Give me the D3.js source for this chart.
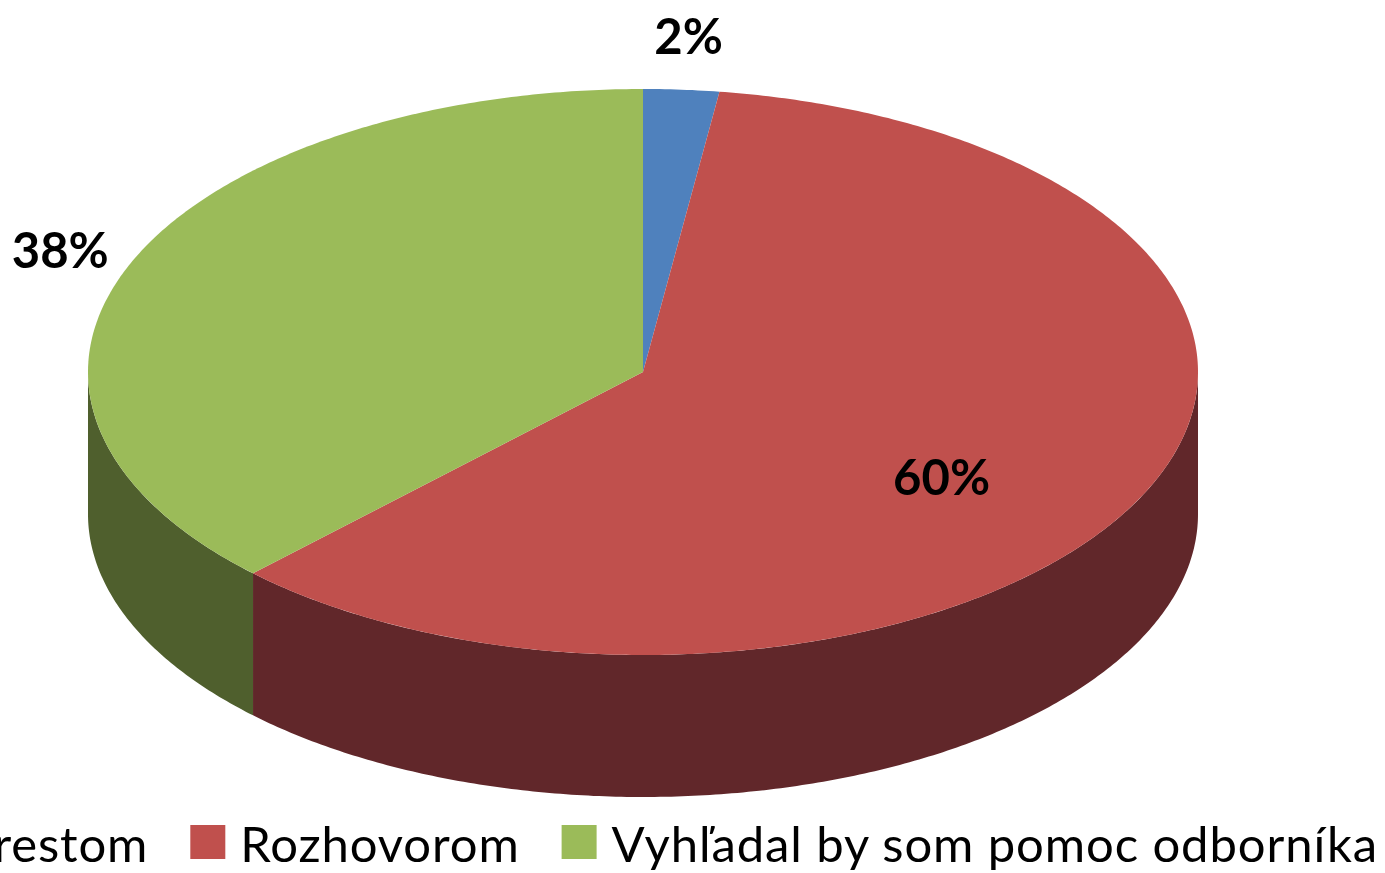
<!DOCTYPE html>
<html>
<head>
<meta charset="utf-8">
<script src="https://cdn.jsdelivr.net/npm/d3@7"></script>
<style>
  html, body { margin: 0; padding: 0; background: #fff; overflow: hidden; }
  svg { display: block; }
</style>
</head>
<body>
<svg id="chart" width="1385" height="873"></svg>
<script>
const categories = ["Trestom", "Rozhovorom", "Vyhľadal by som pomoc odborníka"];
const values = [2.2, 60.2, 37.6];
const labels = ["2%", "60%", "38%"];
const topColors = ["#4F81BD", "#C0504D", "#9BBB59"];
const sideColors = ["#2F4D71", "#61272A", "#4F5F2D"];

const W = 1385, H = 873;
const cx = 643, cy = 372, rx = 555, ry = 283, depth = 142;

const svg = d3.select("#chart");
const xs = d3.scaleLinear().domain([-1, 1]).range([cx - rx, cx + rx]);
const ys = d3.scaleLinear().domain([-1, 1]).range([cy + ry, cy - ry]);

function pt(a, k = 1, dy = 0) {
  return [xs(k * Math.sin(a)), ys(k * Math.cos(a)) + dy];
}

const pie = d3.pie().sort(null).value(d => d)(values);

function arcPoints(a0, a1, dy) {
  const n = Math.max(2, Math.ceil(Math.abs(a1 - a0) / 0.01));
  const pts = [];
  for (let i = 0; i <= n; i++) {
    const a = a0 + (a1 - a0) * i / n;
    pts.push(pt(a, 1, dy));
  }
  return pts;
}

const line = d3.line();

// side walls (front half only)
const sides = svg.append("g");
pie.forEach((p, i) => {
  const a0 = Math.max(p.startAngle, Math.PI / 2);
  const a1 = Math.min(p.endAngle, 3 * Math.PI / 2);
  if (a1 <= a0) return;
  const top = arcPoints(a0, a1, 0);
  const bot = arcPoints(a1, a0, depth);
  sides.append("path")
    .attr("d", line(top.concat(bot)) + "Z")
    .attr("fill", sideColors[i]);
});

// top faces
const tops = svg.append("g");
pie.forEach((p, i) => {
  const pts = [[cx, cy]].concat(arcPoints(p.startAngle, p.endAngle, 0));
  tops.append("path")
    .attr("d", line(pts) + "Z")
    .attr("fill", topColors[i]);
});

// data labels
const labelK = [1.19, 0.6, 1.135];
const labelDy = [0, 30, 0];
const lab = svg.append("g")
  .attr("font-family", "Lato, 'Open Sans', sans-serif")
  .attr("font-weight", "bold")
  .attr("font-size", 49)
  .attr("fill", "#000");
pie.forEach((p, i) => {
  const m = (p.startAngle + p.endAngle) / 2;
  const [x, y] = pt(m, labelK[i], labelDy[i]);
  lab.append("text")
    .attr("x", x).attr("y", y)
    .attr("dy", "0.36em")
    .attr("text-anchor", "middle")
    .text(labels[i]);
});

// legend (anchored so the last label ends near the right edge; overflows left)
const legend = svg.append("g")
  .attr("font-family", "Lato, 'Open Sans', sans-serif")
  .attr("font-size", 49)
  .attr("letter-spacing", "0.9px")
  .attr("fill", "#000");
const sq = 35, gapText = 15, gapItem = 42, rightEdge = 1378, baseY = 862;
const texts = categories.map(c =>
  legend.append("text").attr("y", baseY).text(c)
);
const widths = texts.map(t => t.node().getBBox().width);
let total = 0;
widths.forEach((w, i) => { total += sq + gapText + w + (i < widths.length - 1 ? gapItem : 0); });
let x = rightEdge - total;
categories.forEach((c, i) => {
  legend.append("rect")
    .attr("x", x).attr("y", 825)
    .attr("width", sq).attr("height", 34)
    .attr("fill", topColors[i]);
  x += sq + gapText;
  texts[i].attr("x", x);
  x += widths[i] + gapItem;
});
</script>
</body>
</html>
